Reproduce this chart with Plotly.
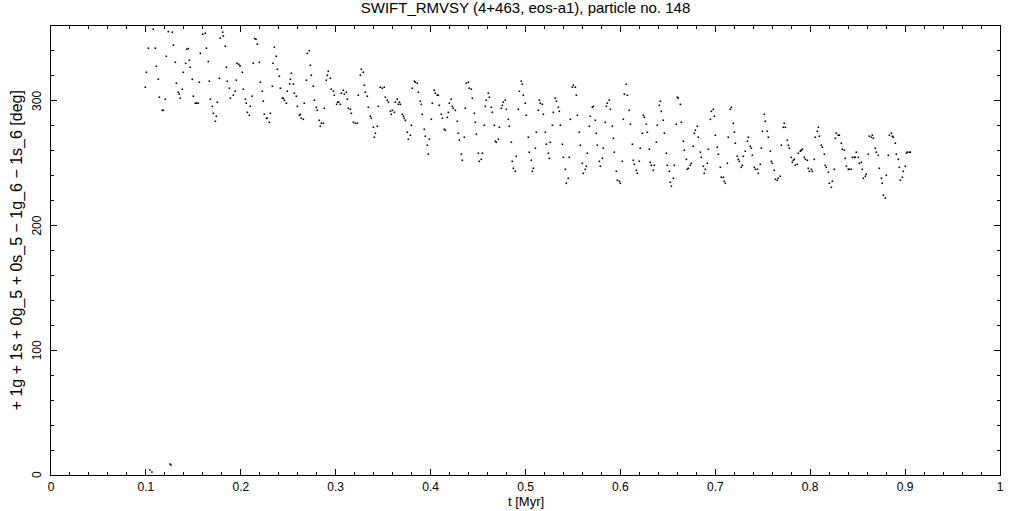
import plotly.graph_objects as go

# time [Myr] and resonant angle [deg]
t_myr = [
    0.0994, 0.1005, 0.1026, 0.1078, 0.1099, 0.1110, 0.1131, 0.1142, 0.1173, 0.1184,
    0.1205, 0.1215, 0.1236, 0.1279, 0.1289, 0.1310, 0.1321, 0.1342, 0.1352, 0.1363,
    0.1384, 0.1394, 0.1419, 0.1430, 0.1447, 0.1458, 0.1468, 0.1489, 0.1500, 0.1521,
    0.1535, 0.1552, 0.1563, 0.1574, 0.1598, 0.1626, 0.1637, 0.1658, 0.1668, 0.1679,
    0.1700, 0.1711, 0.1732, 0.1742, 0.1753, 0.1774, 0.1784, 0.1809, 0.1816, 0.1837,
    0.1848, 0.1858, 0.1879, 0.1890, 0.1921, 0.1942, 0.1953, 0.1960, 0.1978, 0.1992,
    0.2016, 0.2027, 0.2048, 0.2058, 0.2069, 0.2090, 0.2100, 0.2121, 0.2132, 0.2146,
    0.2160, 0.2174, 0.2195, 0.2206, 0.2227, 0.2237, 0.2248, 0.2269, 0.2280, 0.2301,
    0.2311, 0.2332, 0.2339, 0.2353, 0.2374, 0.2385, 0.2406, 0.2417, 0.2438, 0.2448,
    0.2459, 0.2480, 0.2490, 0.2515,
    0.2522, 0.2532, 0.2554, 0.2564, 0.2585, 0.2596, 0.2617, 0.2627, 0.2638, 0.2659,
    0.2669, 0.2691, 0.2701, 0.2722, 0.2733, 0.2743, 0.2764, 0.2775, 0.2796, 0.2806,
    0.2827, 0.2838, 0.2849, 0.2870, 0.2880, 0.2901, 0.2912, 0.2922, 0.2943, 0.2954,
    0.2975, 0.2986, 0.3010, 0.3021, 0.3031, 0.3049, 0.3059, 0.3080, 0.3091, 0.3112,
    0.3123, 0.3133, 0.3154, 0.3165, 0.3186, 0.3207, 0.3228, 0.3238, 0.3260, 0.3270,
    0.3291, 0.3302, 0.3312, 0.3333, 0.3344, 0.3365, 0.3375, 0.3397, 0.3407, 0.3418,
    0.3439, 0.3449, 0.3470, 0.3491, 0.3512, 0.3523, 0.3544, 0.3555, 0.3576, 0.3586,
    0.3597, 0.3618, 0.3628, 0.3649, 0.3660, 0.3671, 0.3681, 0.3702, 0.3713, 0.3723,
    0.3734, 0.3755, 0.3765, 0.3786, 0.3797, 0.3807, 0.3829, 0.3839, 0.3860, 0.3871,
    0.3892, 0.3902, 0.3913, 0.3934, 0.3944, 0.3966, 0.3976, 0.3987, 0.4008, 0.4018,
    0.4039, 0.4050, 0.4071, 0.4081, 0.4092, 0.4113, 0.4124, 0.4145, 0.4155, 0.4176,
    0.4187, 0.4197, 0.4218, 0.4229, 0.4239, 0.4261, 0.4282, 0.4292, 0.4303, 0.4324,
    0.4334, 0.4355, 0.4366, 0.4376, 0.4398, 0.4408, 0.4429, 0.4440, 0.4461, 0.4471,
    0.4482, 0.4503, 0.4513,
    0.4535, 0.4545, 0.4566, 0.4577, 0.4587, 0.4608, 0.4619, 0.4640, 0.4650, 0.4672,
    0.4682, 0.4693, 0.4714, 0.4724, 0.4745, 0.4756, 0.4766, 0.4787, 0.4798, 0.4819,
    0.4830, 0.4851, 0.4861, 0.4872, 0.4893, 0.4903, 0.4924, 0.4935, 0.4956, 0.4967,
    0.4977, 0.4998, 0.5009, 0.5030, 0.5040, 0.5061, 0.5072, 0.5083, 0.5104, 0.5114,
    0.5135, 0.5146, 0.5156, 0.5177, 0.5188, 0.5209, 0.5219, 0.5241, 0.5251, 0.5262,
    0.5283, 0.5293, 0.5314, 0.5325, 0.5346, 0.5356, 0.5367, 0.5388, 0.5399, 0.5420,
    0.5430, 0.5451, 0.5462, 0.5472, 0.5494, 0.5504, 0.5525, 0.5536, 0.5546, 0.5567,
    0.5578, 0.5599, 0.5609, 0.5630, 0.5641, 0.5652, 0.5673, 0.5683, 0.5704, 0.5715,
    0.5736, 0.5746, 0.5757, 0.5778, 0.5789, 0.5810, 0.5820, 0.5841, 0.5852, 0.5862,
    0.5883, 0.5894, 0.5915, 0.5926, 0.5936, 0.5957, 0.5968, 0.5989, 0.5999, 0.6020,
    0.6031, 0.6041, 0.6062, 0.6073, 0.6094, 0.6105, 0.6126, 0.6136, 0.6147, 0.6168,
    0.6178, 0.6199, 0.6210, 0.6231, 0.6242, 0.6252, 0.6273, 0.6284, 0.6305, 0.6315,
    0.6326, 0.6347, 0.6358, 0.6379, 0.6389, 0.6410, 0.6421, 0.6431, 0.6452, 0.6463,
    0.6484, 0.6494, 0.6516,
    0.6526, 0.6537, 0.6558, 0.6568, 0.6589, 0.6600, 0.6610, 0.6632, 0.6642, 0.6663,
    0.6674, 0.6695, 0.6705, 0.6716, 0.6737, 0.6747, 0.6768, 0.6779, 0.6790, 0.6811,
    0.6821, 0.6842, 0.6853, 0.6874, 0.6884, 0.6895, 0.6916, 0.6927, 0.6948, 0.6958,
    0.6979, 0.6990, 0.7000, 0.7021, 0.7032, 0.7053, 0.7063, 0.7085, 0.7095, 0.7106,
    0.7127, 0.7137, 0.7158, 0.7169, 0.7190, 0.7201, 0.7211, 0.7232, 0.7243, 0.7253,
    0.7274, 0.7285, 0.7295, 0.7316, 0.7338, 0.7348, 0.7369, 0.7380, 0.7390, 0.7411,
    0.7422, 0.7443, 0.7453, 0.7474, 0.7485, 0.7496, 0.7517, 0.7527, 0.7548, 0.7559,
    0.7580, 0.7590, 0.7601, 0.7622, 0.7633, 0.7654, 0.7664, 0.7685, 0.7696, 0.7717,
    0.7727, 0.7738, 0.7759, 0.7770, 0.7780, 0.7801, 0.7812, 0.7822, 0.7833, 0.7843,
    0.7864, 0.7875, 0.7896, 0.7906, 0.7917, 0.7938, 0.7949, 0.7970, 0.7980, 0.7991,
    0.8012, 0.8022, 0.8043, 0.8054, 0.8075, 0.8086, 0.8096, 0.8117, 0.8128, 0.8149,
    0.8159, 0.8170, 0.8191, 0.8202, 0.8223, 0.8233, 0.8254, 0.8265, 0.8275, 0.8296,
    0.8307, 0.8328, 0.8338, 0.8360, 0.8370, 0.8381, 0.8402, 0.8412, 0.8433, 0.8444,
    0.8465, 0.8476, 0.8486, 0.8507, 0.8518, 0.8539, 0.8549, 0.8560, 0.8581, 0.8591,
    0.8613, 0.8623, 0.8644, 0.8655, 0.8665, 0.8686, 0.8697, 0.8718, 0.8728, 0.8750,
    0.8760, 0.8771, 0.8792, 0.8802, 0.8823, 0.8834, 0.8855, 0.8865, 0.8876, 0.8897,
    0.8908, 0.8929, 0.8939, 0.8950, 0.8971, 0.8981, 0.9002, 0.9013, 0.9024, 0.9045,
    0.9055,
    0.1043, 0.1064, 0.1254, 0.1264,
]

angle_deg = [
    310.9, 322.9, 342.2, 357.4, 342.2, 327.7, 317.3, 302.9, 292.4, 292.4,
    301.3, 335.7, 355.5, 355.0, 344.6, 330.9, 314.1, 306.9, 305.3, 302.1,
    309.3, 322.9, 330.1, 341.4, 341.9, 332.5, 326.9, 317.3, 303.7, 298.1,
    298.1, 298.1, 314.9, 338.1, 353.4, 354.2, 342.2, 331.5, 315.7, 301.3,
    295.6, 290.0, 283.6, 287.6, 298.9, 318.1, 350.2, 355.0, 352.0, 343.8,
    326.9, 315.7, 310.1, 302.1, 304.5, 307.7, 316.5, 330.1, 329.3, 328.0,
    322.9, 309.3, 301.3, 298.1, 290.8, 288.4, 295.6, 303.7, 330.1, 349.9,
    349.4, 345.4, 330.9, 314.9, 307.7, 299.7, 289.2, 286.0, 286.0, 282.8,
    290.0, 311.7, 330.1, 343.0, 335.7, 325.3, 319.7, 310.1, 302.1, 302.1,
    300.5, 298.1, 307.7, 313.6,
    317.3, 322.1, 313.3, 306.1, 303.7, 295.6, 288.4, 289.2, 286.0, 285.2,
    298.1, 316.5, 338.1, 340.3, 328.5, 320.5, 311.7, 300.5, 294.8, 292.4,
    284.4, 279.6, 282.0, 282.0, 294.0, 316.5, 320.5, 323.7, 318.1, 309.3,
    307.7, 304.5, 297.2, 298.9, 298.9, 297.2, 306.1, 308.5, 305.3, 306.9,
    301.3, 294.0, 293.2, 290.0, 282.8, 282.0, 282.0, 304.5, 320.5, 325.3,
    322.9, 312.5, 306.9, 303.7, 294.8, 287.6, 286.0, 278.8, 270.8, 274.0,
    279.6, 295.6, 310.9, 310.1, 310.9, 302.9, 300.5, 298.9, 291.6, 289.2,
    292.4, 290.8, 298.9, 301.3, 297.2, 298.9, 297.2, 289.2, 287.6, 286.0,
    284.4, 274.8, 269.2, 272.4, 280.4, 310.1, 315.7, 314.9, 314.1, 306.9,
    299.7, 297.2, 289.2, 277.2, 271.6, 264.4, 257.2, 269.2, 285.2, 298.1,
    308.5, 306.1, 304.5, 304.5, 296.4, 289.2, 286.0, 277.2, 276.4, 286.8,
    290.8, 298.1, 301.3, 295.6, 294.0, 292.4, 283.6, 274.0, 268.4, 257.2,
    252.3, 270.8, 294.0, 314.1, 314.9, 310.1, 309.3, 302.1, 290.0, 282.8,
    273.2, 258.0, 251.5,
    253.1, 258.0, 280.4, 295.6, 300.5, 306.1, 302.9, 294.8, 290.8, 280.4,
    267.6, 266.8, 269.2, 278.8, 294.0, 296.4, 298.9, 300.5, 293.2, 285.2,
    279.6, 266.8, 251.5, 245.9, 243.5, 255.5, 293.2, 307.7, 315.7, 313.3,
    304.5, 298.1, 288.4, 270.8, 258.8, 252.3, 243.5, 245.9, 262.0, 274.8,
    292.4, 300.5, 298.1, 297.2, 289.2, 274.8, 265.2, 258.0, 253.9, 266.8,
    280.4, 290.8, 302.1, 299.7, 294.8, 291.6, 280.4, 265.2, 254.7, 245.1,
    233.9, 237.9, 254.7, 285.2, 310.9, 312.5, 310.9, 304.5, 288.4, 274.8,
    264.4, 249.9, 241.9, 245.1, 247.5, 258.0, 279.6, 287.6, 294.8, 295.6,
    284.4, 274.0, 264.4, 251.5, 247.5, 253.9, 262.0, 282.8, 295.6, 298.1,
    300.5, 293.2, 279.6, 270.0, 258.8, 243.5, 236.3, 235.5, 233.9, 251.5,
    285.2, 305.3, 313.3, 304.5, 292.4, 281.2, 265.2, 252.3, 249.1, 244.3,
    241.9, 251.5, 262.0, 274.0, 288.4, 286.8, 281.2, 274.8, 261.2, 250.7,
    248.3, 244.3, 248.3, 266.8, 280.4, 296.4, 299.7, 291.6, 284.4, 274.0,
    258.0, 248.3, 243.5,
    234.7, 231.5, 237.9, 248.3, 281.2, 302.9, 302.1, 297.2, 282.8, 267.6,
    260.4, 253.1, 245.1, 245.9, 248.3, 249.9, 263.6, 274.0, 276.4, 279.6,
    270.8, 258.8, 254.7, 247.5, 241.9, 245.1, 249.9, 261.2, 285.2, 291.6,
    293.2, 287.6, 272.4, 262.8, 257.2, 246.7, 238.7, 238.7, 235.5, 233.9,
    249.9, 270.8, 293.2, 294.8, 282.0, 274.8, 266.0, 255.5, 253.1, 251.5,
    246.7, 248.3, 255.5, 259.6, 267.6, 270.8, 263.6, 262.0, 256.3, 246.7,
    245.1, 245.1, 241.9, 249.1, 262.0, 275.6, 289.2, 283.6, 275.6, 270.8,
    259.6, 251.5, 249.9, 244.3, 237.1, 236.3, 237.9, 239.5, 264.4, 278.8,
    282.0, 278.8, 268.4, 264.4, 262.0, 254.7, 250.7, 252.3, 253.1, 248.3,
    249.1, 258.0, 259.6, 260.4, 261.2, 254.7, 253.1, 252.3, 245.9, 243.5,
    245.1, 243.5, 253.1, 270.8, 275.6, 278.8, 271.6, 264.4, 262.8, 257.2,
    248.3, 246.7, 242.7, 233.9, 230.7, 235.5, 245.1, 270.0, 274.0, 272.4,
    272.4, 266.0, 261.2, 260.4, 253.9, 247.5, 245.1, 245.1, 245.1, 254.7,
    254.7, 254.7, 258.8, 254.7, 249.9, 250.7, 245.1, 237.9, 239.5, 241.1,
    257.2, 271.6, 270.8, 272.4, 270.0, 262.0, 258.8, 256.3, 245.9, 237.9,
    233.9, 224.3, 221.9, 240.3, 256.3, 272.4, 274.0, 271.6, 270.8, 266.0,
    257.2, 253.1, 246.7, 236.3, 238.7, 243.5, 247.5, 258.0, 258.8, 258.8,
    258.8,
    4.0, 2.4, 8.8, 8.0,
]

x_ticks = [0, 0.1, 0.2, 0.3, 0.4, 0.5, 0.6, 0.7, 0.8, 0.9, 1]
x_tick_labels = ["0", "0.1", "0.2", "0.3", "0.4", "0.5", "0.6", "0.7", "0.8", "0.9", "1"]
y_ticks = [0, 100, 200, 300]
y_tick_labels = ["0", "100", "200", "300"]

FONT = "Liberation Sans, DejaVu Sans, sans-serif"
TICK_FONT = dict(family=FONT, size=12, color="black")

fig = go.Figure(
    go.Scatter(
        x=t_myr,
        y=angle_deg,
        mode="markers",
        marker=dict(size=1.6, color="black", symbol="square", line=dict(width=0)),
        hoverinfo="x+y",
    )
)

axis_common = dict(
    showgrid=False,
    zeroline=False,
    showline=True,
    linecolor="black",
    linewidth=1,
    mirror="ticks",
    ticks="inside",
    ticklen=6,
    tickwidth=1,
    tickcolor="black",
    tickfont=TICK_FONT,
    automargin=False,
)

# vertical y tick labels (reading bottom-to-top), one per y tick value
y_label_annotations = [
    dict(text=lab, font=TICK_FONT, showarrow=False, textangle=-90,
         xref="paper", x=-0.0147, xanchor="center",
         yref="y", y=val, yanchor="middle")
    for val, lab in zip(y_ticks, y_tick_labels)
]

fig.update_layout(
    width=1021,
    height=511,
    margin=dict(l=51, r=21, t=26, b=36, autoexpand=False),
    paper_bgcolor="white",
    plot_bgcolor="white",
    showlegend=False,
    title=dict(
        text="SWIFT_RMVSY (4+463, eos-a1), particle no. 148",
        font=dict(family=FONT, size=15, color="black"),
        xref="paper",
        x=0.5,
        xanchor="center",
        yref="container",
        y=0.984,
        yanchor="middle",
        automargin=False,
    ),
    xaxis=dict(
        range=[0, 1],
        tickmode="array",
        tickvals=x_ticks,
        ticktext=x_tick_labels,
        ticklabelstandoff=1,
        minor=dict(tickmode="linear", tick0=0, dtick=0.02, ticks="inside",
                   ticklen=3, tickcolor="black", showgrid=False),
        **axis_common,
    ),
    yaxis=dict(
        range=[0, 360],
        tickmode="array",
        tickvals=y_ticks,
        ticktext=y_tick_labels,
        showticklabels=False,
        minor=dict(tickmode="linear", tick0=0, dtick=20, ticks="inside",
                   ticklen=3, tickcolor="black", showgrid=False),
        **axis_common,
    ),
    annotations=[
        dict(text="t [Myr]", font=dict(family=FONT, size=13, color="black"),
             showarrow=False,
             xref="paper", x=0.5, xanchor="center",
             yref="paper", y=-0.060, yanchor="middle"),
        dict(text="+ 1g + 1s + 0g_5 + 0s_5 \u2212 1g_6 \u2212 1s_6 [deg]",
             font=dict(family=FONT, size=16, color="black"),
             showarrow=False, textangle=-90,
             xref="paper", x=-0.036, xanchor="center",
             yref="paper", y=0.5, yanchor="middle"),
    ] + y_label_annotations,
)

fig.write_html(
    "out.html",
    config={"displayModeBar": False},
    post_script="document.body.style.margin='0';document.body.style.overflow='hidden';",
)
